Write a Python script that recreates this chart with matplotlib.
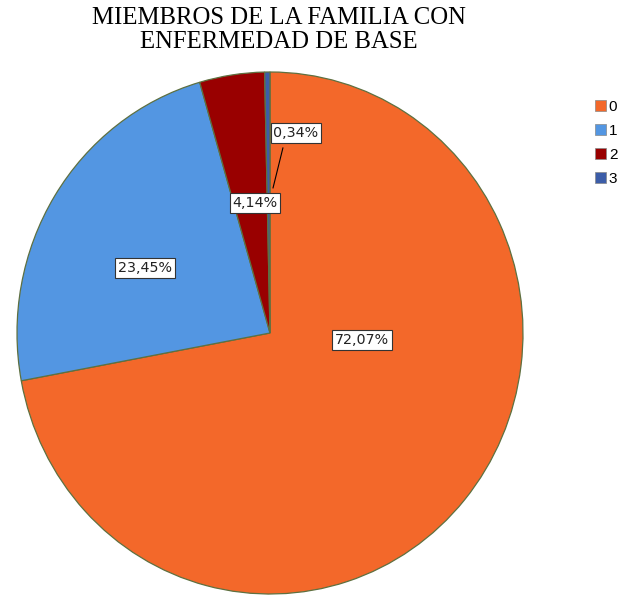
import matplotlib.pyplot as plt
from matplotlib.patches import Patch

# datos
categorias = ['0', '1', '2', '3']
porcentajes = [72.07, 23.45, 4.14, 0.34]
colores = ['#F3682A', '#5396E2', '#990000', '#3C5DA8']

# posiciones de las etiquetas (coordenadas del pie, radio 1)
pos_etiquetas = [(0.364, -0.027), (-0.494, 0.249), (-0.059, 0.498), (0.103, 0.766)]

fig = plt.figure(figsize=(6.28, 5.95), dpi=100)
ax = fig.add_axes([17 / 628, 1 / 595, 506 / 628, 522 / 595])

wedges, _ = ax.pie(porcentajes, colors=colores, startangle=90, counterclock=False,
                   wedgeprops=dict(edgecolor='#5E7040', linewidth=0.9))
ax.set_aspect('auto')
ax.set_xlim(-1, 1)
ax.set_ylim(-1, 1)

for v, (x, y) in zip(porcentajes, pos_etiquetas):
    ax.text(x, y, f"{v:.2f}%".replace('.', ','), ha='center', va='center',
            fontsize=10.3, family='DejaVu Sans', color='#222222', zorder=5,
            bbox=dict(boxstyle='square,pad=0.18', fc='white', ec='#333333', lw=0.8))

# linea guia de la etiqueta pequena
ax.plot([0.051, 0.012], [0.709, 0.556], color='black', lw=0.8, zorder=4)

fig.text(279 / 628, 1 - 30 / 595, 'MIEMBROS DE LA FAMILIA CON\nENFERMEDAD DE BASE',
         ha='center', va='center', fontsize=17.8, family='Liberation Serif',
         linespacing=1.12)

handles = [Patch(facecolor=c, edgecolor='#888888', linewidth=0.5) for c in colores]
fig.legend(handles, categorias, loc='upper left', bbox_to_anchor=(595 / 628, 1 - 100 / 595),
           frameon=False, prop={'family': 'Liberation Sans', 'size': 11},
           handlelength=0.7, handleheight=0.7, handletextpad=0.2,
           labelspacing=0.65, borderpad=0, borderaxespad=0)

fig.savefig('out.png', dpi=100)
